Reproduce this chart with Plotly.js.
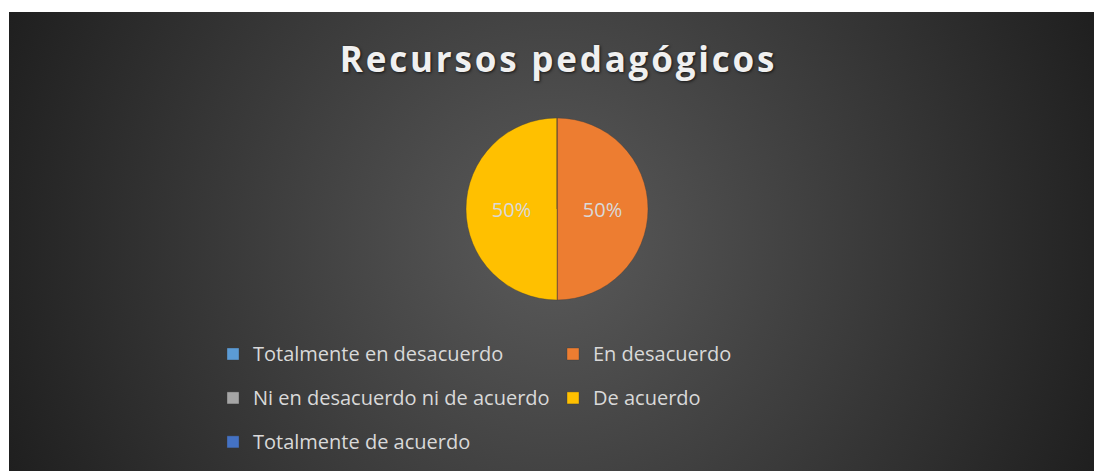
<!DOCTYPE html>
<html>
<head>
<meta charset="utf-8">
<script src="https://cdn.plot.ly/plotly-3.0.1.min.js"></script>
<style>
  html, body { margin: 0; padding: 0; background: #ffffff; }
  #bg { position: absolute; left: 9px; top: 12px; width: 1085px; height: 459px;
        background: radial-gradient(circle farthest-corner at 50% 50%, #5a5a5a 0%, #1f1f1f 100%); }
  #chart { position: absolute; left: 0; top: 0; width: 1094px; height: 471px; }
  #chart .gtitle { letter-spacing: 2.8px; }
</style>
</head>
<body>
<div id="bg"></div>
<div id="chart"></div>
<script>
const titleText = "Recursos pedagógicos";
const categories = ["Totalmente en desacuerdo", "En desacuerdo", "Ni en desacuerdo ni de acuerdo", "De acuerdo", "Totalmente de acuerdo"];
const values = [0, 50, 0, 50, 0];
const colors = ["#5B9BD5", "#ED7D31", "#A5A5A5", "#FFC000", "#4472C4"];

const W = 1094, H = 471;
const legendLabels = categories.map(c => '<span style="font-size:20px;baseline-shift:5px">' + c + '</span>');

const trace = {
  type: 'pie',
  labels: legendLabels,
  values: values,
  sort: false,
  direction: 'clockwise',
  rotation: 0,
  marker: { colors: colors, line: { color: 'rgba(60,60,60,0.6)', width: 0.6 } },
  texttemplate: values.map(v => v > 0 ? '%{percent}' : ''),
  textposition: 'inside',
  insidetextorientation: 'horizontal',
  textfont: { family: 'Open Sans', size: 20, color: '#d9d9d9' },
  hoverinfo: 'none',
  domain: { x: [253/700, 435/700], y: [1 - 300/471, 1 - 118/471] }
};

const layout = {
  width: W, height: H,
  paper_bgcolor: 'rgba(0,0,0,0)',
  plot_bgcolor: 'rgba(0,0,0,0)',
  margin: { l: 213, r: 181, t: 0, b: 0, autoexpand: false },
  title: {
    text: titleText,
    xref: 'container', x: 558.5 / W, xanchor: 'center',
    yref: 'container', y: 1 - 59.5 / H, yanchor: 'middle',
    font: { family: 'Open Sans', size: 35, weight: 700, color: '#f0f0f0', shadow: '1px 1px 3px rgba(0,0,0,0.7)' }
  },
  showlegend: true,
  legend: {
    orientation: 'h',
    xref: 'paper', x: 0, xanchor: 'left',
    yref: 'paper', y: 1 - 327 / H, yanchor: 'top',
    entrywidth: 295, entrywidthmode: 'pixels',
    font: { family: 'Open Sans', size: 31.5, color: '#d9d9d9' },
    bgcolor: 'rgba(0,0,0,0)',
    traceorder: 'normal'
  }
};

Plotly.newPlot('chart', [trace], layout, { displayModeBar: false, staticPlot: true });
</script>
</body>
</html>
